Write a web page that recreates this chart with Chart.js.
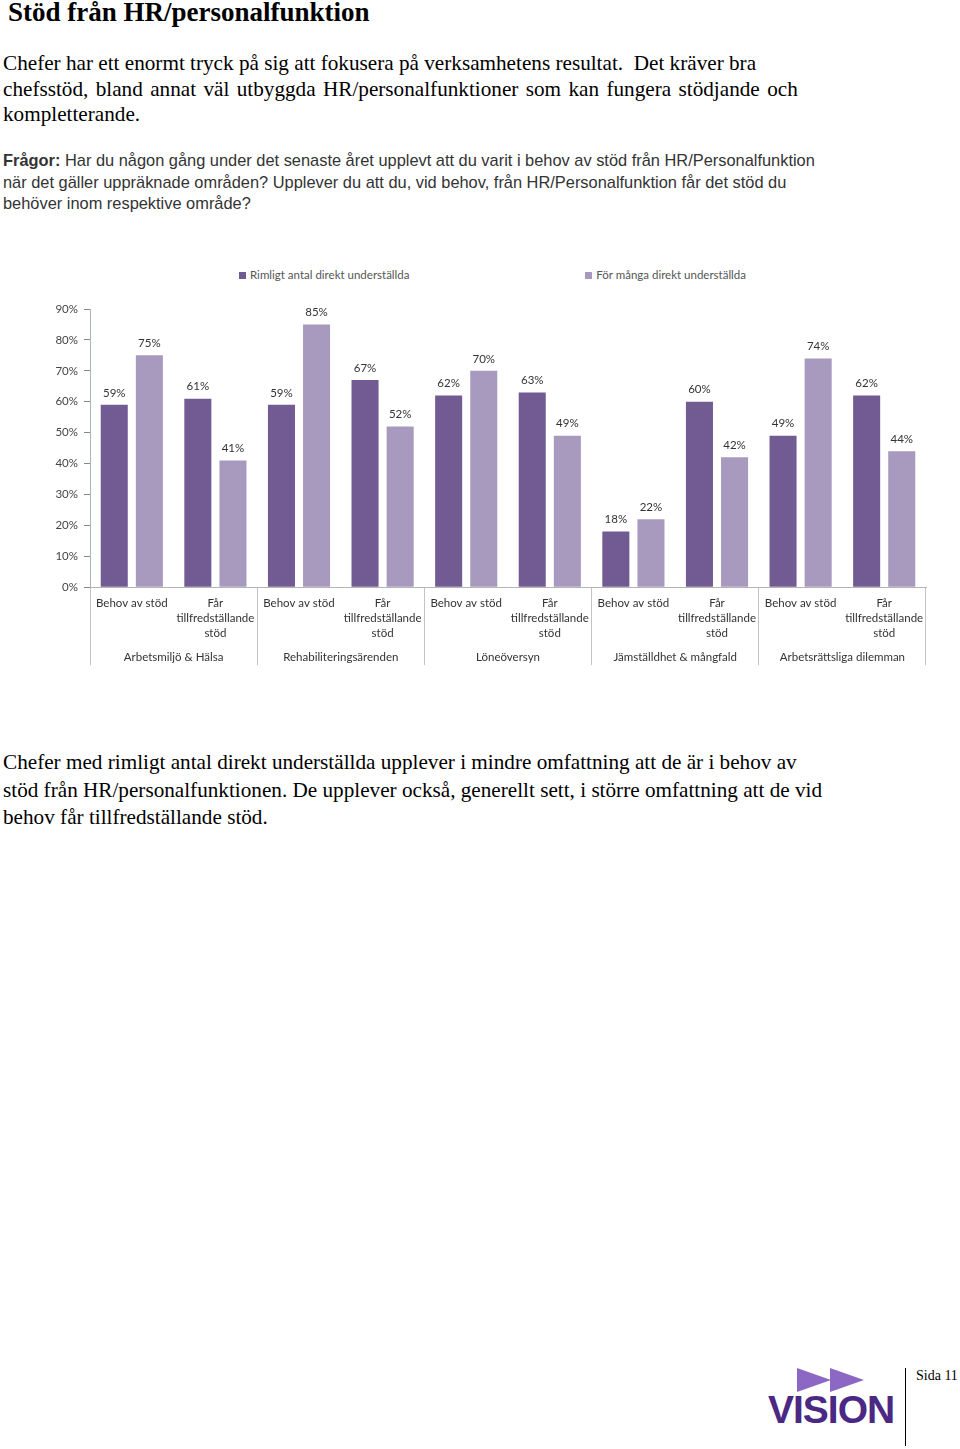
<!DOCTYPE html>
<html>
<head>
<meta charset="utf-8">
<script src="https://cdn.jsdelivr.net/npm/chart.js@4"></script>
<style>
    body { margin: 0; background: #fff; width: 960px; height: 1449px; position: relative; overflow: hidden; }
    .serif { font-family: "Liberation Serif", "Times New Roman", serif; color: #000; position: absolute; white-space: nowrap; }
    #title { left: 8px; top: -3px; font-size: 27px; line-height: 30px; font-weight: bold; }
    #intro { left: 3px; top: 51px; font-size: 21.2px; line-height: 25.5px; }
    #question { position: absolute; left: 3px; top: 150px; font-family: "Liberation Sans", Arial, sans-serif;
        font-size: 16.4px; line-height: 21.5px; color: #333; white-space: nowrap; }
    #outro { left: 3px; top: 749px; font-size: 21.2px; line-height: 27.5px; }
    #legend { position: absolute; left: 239px; top: 268px; width: 507px; display: flex; justify-content: space-between;
        font-family: Lato, sans-serif; font-size: 11.5px; color: #555; }
    #legend span.box { display: inline-block; width: 7px; height: 7px; margin-right: 4px; }
    #chartBox { position: absolute; left: 40px; top: 295px; width: 900px; height: 378px; }
    #logo { position: absolute; left: 767px; top: 1366px; width: 135px; height: 70px; }
    .tri { position: absolute; top: 2px; width: 0; height: 0; border-top: 12px solid transparent;
        border-bottom: 12px solid transparent; border-left: 34px solid #8c68c4; }
    #logoText { position: absolute; left: 1px; top: 22px; font-family: "Liberation Sans", Arial, sans-serif;
        font-weight: bold; font-size: 39px; letter-spacing: -1px; color: #4a2884; }
    #rule { position: absolute; left: 905px; top: 1368px; width: 1px; height: 78px; background: #000; }
    #page { left: 916px; top: 1367px; font-size: 14px; line-height: 18px; }
</style>
</head>
<body>
<div id="title" class="serif">Stöd från HR/personalfunktion</div>
<div id="intro" class="serif">Chefer har ett enormt tryck på sig att fokusera på verksamhetens resultat.&nbsp; Det kräver bra<br><span style="word-spacing:2.1px">chefsstöd, bland annat väl utbyggda HR/personalfunktioner som kan fungera stödjande och</span><br>kompletterande.</div>
<div id="question"><b>Frågor:</b> Har du någon gång under det senaste året upplevt att du varit i behov av stöd från HR/Personalfunktion<br>när det gäller uppräknade områden? Upplever du att du, vid behov, från HR/Personalfunktion får det stöd du<br>behöver inom respektive område?</div>
<div id="legend"></div>
<div id="chartBox"><canvas id="barChart"></canvas></div>
<div id="outro" class="serif">Chefer med rimligt antal direkt underställda upplever i mindre omfattning att de är i behov av<br>stöd från HR/personalfunktionen. De upplever också, generellt sett, i större omfattning att de vid<br>behov får tillfredställande stöd.</div>
<div id="logo">
    <div class="tri" style="left:30px"></div>
    <div class="tri" style="left:63px"></div>
    <div id="logoText">VISION</div>
</div>
<div id="rule"></div>
<div id="page" class="serif">Sida 11</div>

<script>
var groups = ["Arbetsmiljö & Hälsa", "Rehabiliteringsärenden", "Löneöversyn", "Jämställdhet & mångfald", "Arbetsrättsliga dilemman"];
var subLabels = ["Behov av stöd", ["Får", "tillfredställande", "stöd"]];
var seriesNames = ["Rimligt antal direkt underställda", "För många direkt underställda"];
var rimligt = [59, 61, 59, 67, 62, 63, 18, 60, 49, 62];
var forManga = [75, 41, 85, 52, 70, 49, 22, 42, 74, 44];
var yTicks = [0, 10, 20, 30, 40, 50, 60, 70, 80, 90];
var seriesColors = ["#725a92", "#a899be"];

document.addEventListener("DOMContentLoaded", function () {
    var labels = [];
    groups.forEach(function () {
        labels.push(subLabels[0], subLabels[1]);
    });

    var legend = document.getElementById("legend");
    seriesNames.forEach(function (name, i) {
        var item = document.createElement("div");
        item.innerHTML = '<span class="box" style="background:' + seriesColors[i] + '"></span>' + name;
        legend.appendChild(item);
    });

    // value labels above each bar
    var valueLabels = {
        id: "valueLabels",
        afterDatasetsDraw: function (chart) {
            var ctx = chart.ctx;
            ctx.save();
            ctx.font = "11.5px Lato";
            ctx.fillStyle = "#333";
            ctx.textAlign = "center";
            ctx.textBaseline = "middle";
            chart.data.datasets.forEach(function (ds, i) {
                chart.getDatasetMeta(i).data.forEach(function (bar, j) {
                    ctx.fillText(ds.data[j] + "%", bar.x, bar.y - 12);
                });
            });
            ctx.restore();
        },
    };

    Chart.defaults.font.family = "Lato";
    Chart.defaults.font.size = 11.5;
    Chart.defaults.color = "#333";

    var ctx = document.getElementById("barChart").getContext("2d");
    new Chart(ctx, {
        type: "bar",
        data: {
            labels: labels,
            datasets: [
                { label: seriesNames[0], data: rimligt, backgroundColor: seriesColors[0] },
                { label: seriesNames[1], data: forManga, backgroundColor: seriesColors[1] },
            ],
        },
        options: {
            responsive: true,
            maintainAspectRatio: false,
            animation: false,
            categoryPercentage: 0.84,
            barPercentage: 0.77,
            layout: { padding: { top: 14, right: 14, left: 0, bottom: 0 } },
            plugins: {
                legend: { display: false },
                tooltip: { enabled: false },
            },
            scales: {
                y: {
                    min: 0,
                    max: 90,
                    afterBuildTicks: function (scale) {
                        scale.ticks = yTicks.map(function (v) { return { value: v }; });
                    },
                    afterFit: function (scale) { scale.width = 50; },
                    ticks: {
                        padding: 6,
                        color: "#444",
                        callback: function (v) { return v + "%"; },
                    },
                    grid: { drawOnChartArea: false, drawTicks: true, tickLength: 6, color: "#888" },
                    border: { color: "#a6b4c4" },
                },
                x: {
                    offset: true,
                    afterFit: function (scale) { scale.height = 53.5; },
                    ticks: {
                        autoSkip: false,
                        maxRotation: 0,
                        padding: -69.5,
                        color: "#333",
                        font: { size: 11.5, lineHeight: 1.3 },
                    },
                    grid: {
                        offset: true,
                        drawOnChartArea: false,
                        drawTicks: true,
                        tickLength: 78,
                        color: function (c) {
                            return c.index === undefined || c.index % 2 === 0 ? "#c4c4c4" : "rgba(0,0,0,0)";
                        },
                    },
                    border: { color: "#b4b4b4" },
                },
                x2: {
                    type: "category",
                    labels: groups,
                    position: "bottom",
                    offset: true,
                    ticks: { autoSkip: false, maxRotation: 0, padding: 8.7, color: "#333", font: { size: 11.5, lineHeight: 1.3 } },
                    grid: { display: false, drawTicks: false },
                    border: { display: false },
                },
            },
        },
        plugins: [valueLabels],
    });
});
</script>
</body>
</html>
